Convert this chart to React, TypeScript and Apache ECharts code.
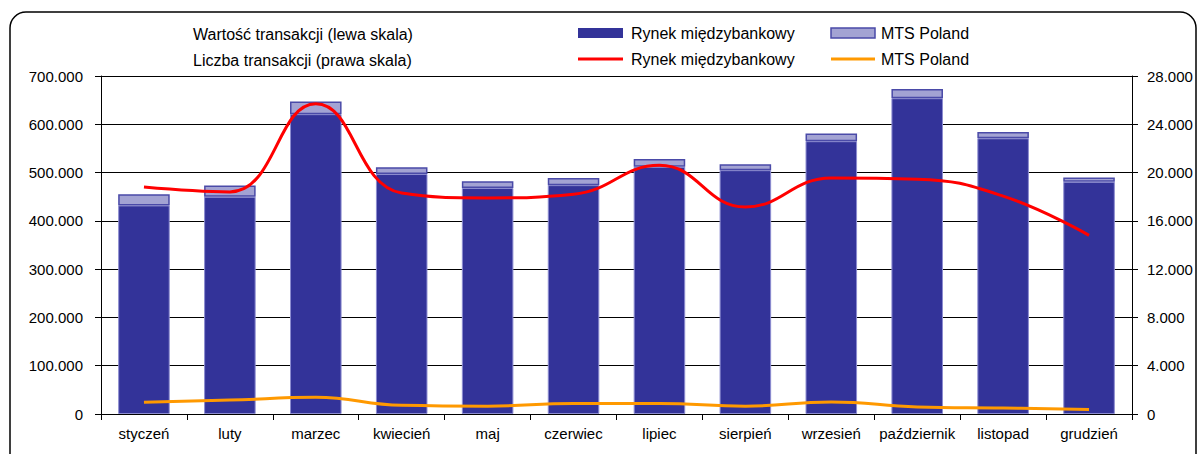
import React, { useEffect, useRef } from "react";
import * as echarts from "echarts";

const months = ["styczeń", "luty", "marzec", "kwiecień", "maj", "czerwiec", "lipiec", "sierpień", "wrzesień", "październik", "listopad", "grudzień"];
// Transaction value (left axis), stacked
const valueInterbank = [432000, 450000, 621000, 497000, 468000, 474000, 512000, 505000, 565000, 654000, 571000, 481000];
const valueMTS = [23000, 23000, 26000, 14000, 14000, 15000, 16000, 12000, 16000, 19000, 13000, 9000];
// Transaction count (right axis)
const countInterbank = [18800, 18400, 25700, 18300, 17900, 18200, 20600, 17150, 19550, 19450, 18050, 14800];
const countMTS = [980, 1150, 1380, 720, 650, 880, 880, 650, 1000, 590, 500, 380];

const FONT = "'Liberation Sans', Arial, sans-serif";
const fmt = (v: number) => String(Math.round(v)).replace(/\B(?=(\d{3})+(?!\d))/g, ".");

export default function App() {
  const ref = useRef<HTMLDivElement>(null);
  useEffect(() => {
    if (!ref.current) return;
    const chart = echarts.init(ref.current, null, { renderer: "svg" });
    const axisText = { color: "#000", fontFamily: FONT, fontSize: 15 };
    chart.setOption({
      animation: false,
      backgroundColor: "#fff",
      grid: { left: 101, right: 68, top: 76, bottom: 40, containLabel: false },
      xAxis: {
        type: "category",
        data: months,
        axisLine: { lineStyle: { color: "#000", width: 1 } },
        axisTick: { show: true, length: 6, lineStyle: { color: "#000" } },
        axisLabel: { ...axisText, margin: 12, interval: 0 },
      },
      yAxis: [
        {
          type: "value",
          min: 0,
          max: 700000,
          interval: 100000,
          position: "left",
          axisLine: { show: true, lineStyle: { color: "#000", width: 1 } },
          axisTick: { show: true, length: 6, lineStyle: { color: "#000" } },
          axisLabel: { ...axisText, margin: 18, formatter: fmt },
          splitLine: { show: true, lineStyle: { color: "#000", width: 1 } },
        },
        {
          type: "value",
          min: 0,
          max: 28000,
          interval: 4000,
          position: "right",
          axisLine: { show: true, lineStyle: { color: "#000", width: 1 } },
          axisTick: { show: true, length: 6, lineStyle: { color: "#000" } },
          axisLabel: { ...axisText, margin: 15, formatter: fmt },
          splitLine: { show: false },
        },
      ],
      series: [
        {
          name: "Rynek międzybankowy (wartość)",
          type: "bar",
          stack: "v",
          yAxisIndex: 0,
          barCategoryGap: "40%",
          data: valueInterbank,
          itemStyle: { color: "#333399", borderColor: "#8c8cd0", borderWidth: 1 },
        },
        {
          name: "MTS Poland (wartość)",
          type: "bar",
          stack: "v",
          yAxisIndex: 0,
          data: valueMTS,
          itemStyle: { color: "#a3a3d3", borderColor: "#4a4aa8", borderWidth: 1.5 },
        },
        {
          name: "Rynek międzybankowy (liczba)",
          type: "line",
          yAxisIndex: 1,
          data: countInterbank,
          smooth: 0.45,
          symbol: "none",
          lineStyle: { color: "#ff0000", width: 3 },
          z: 5,
        },
        {
          name: "MTS Poland (liczba)",
          type: "line",
          yAxisIndex: 1,
          data: countMTS,
          smooth: 0.45,
          symbol: "none",
          lineStyle: { color: "#ff9900", width: 3 },
          z: 5,
        },
      ],
      graphic: [
        {
          type: "rect",
          shape: { x: 10, y: 12, width: 1186, height: 460, r: 16 },
          style: { fill: "none", stroke: "#000", lineWidth: 1.5 },
          silent: true,
          z: 10,
        },
        { type: "text", x: 193, y: 34, style: { text: "Wartość transakcji (lewa skala)", font: `16px ${FONT}`, fill: "#000", verticalAlign: "middle" } },
        { type: "text", x: 193, y: 60, style: { text: "Liczba transakcji (prawa skala)", font: `16px ${FONT}`, fill: "#000", verticalAlign: "middle" } },
        { type: "rect", shape: { x: 578, y: 28, width: 45, height: 10 }, style: { fill: "#333399" } },
        { type: "text", x: 631, y: 33, style: { text: "Rynek międzybankowy", font: `16px ${FONT}`, fill: "#000", verticalAlign: "middle" } },
        { type: "rect", shape: { x: 831, y: 28, width: 44, height: 10 }, style: { fill: "#a3a3d3", stroke: "#4a4aa8", lineWidth: 1.5 } },
        { type: "text", x: 881, y: 33, style: { text: "MTS Poland", font: `16px ${FONT}`, fill: "#000", verticalAlign: "middle" } },
        { type: "line", shape: { x1: 578, y1: 59, x2: 623, y2: 59 }, style: { stroke: "#ff0000", lineWidth: 3 } },
        { type: "text", x: 631, y: 59, style: { text: "Rynek międzybankowy", font: `16px ${FONT}`, fill: "#000", verticalAlign: "middle" } },
        { type: "line", shape: { x1: 831, y1: 59, x2: 875, y2: 59 }, style: { stroke: "#ff9900", lineWidth: 3 } },
        { type: "text", x: 881, y: 59, style: { text: "MTS Poland", font: `16px ${FONT}`, fill: "#000", verticalAlign: "middle" } },
      ],
    });
    return () => chart.dispose();
  }, []);
  return <div ref={ref} style={{ position: "fixed", left: 0, top: 0, width: 1200, height: 454 }} />;
}
